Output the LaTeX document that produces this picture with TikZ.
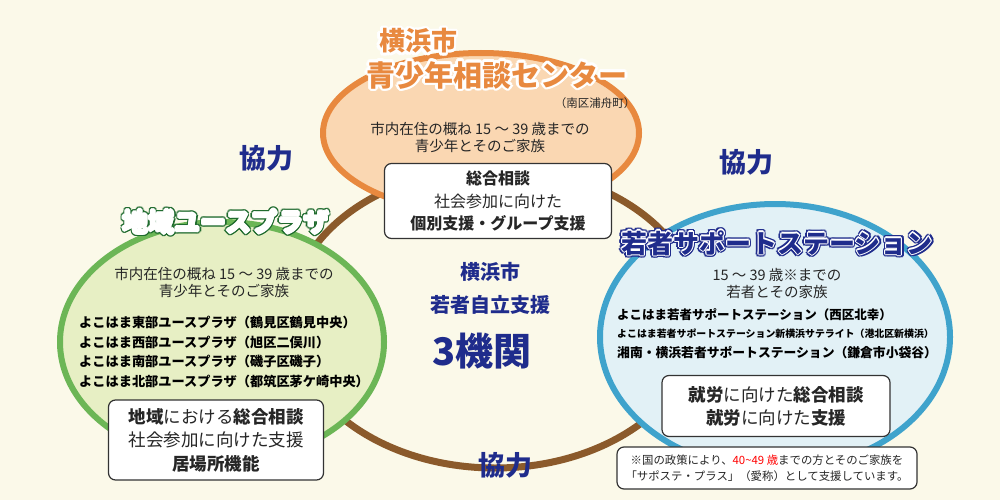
\documentclass[tikz,border=0pt]{standalone}
\usepackage{fontspec}
\usetikzlibrary{calc}
\setmainfont{Noto Sans CJK JP}
\newcommand{\outl}[5]{% pos, size, text, fill, outline
  \foreach \a in {0,30,...,330}{\node[inner sep=0,text=#5,font=\fontsize{#2}{#2}\selectfont\bfseries] at ($(#1)+(\a:2.6)$) {#3};}
  \foreach \a in {0,45,...,315}{\node[inner sep=0,text=white,font=\fontsize{#2}{#2}\selectfont\bfseries] at ($(#1)+(\a:1.2)$) {#3};}
  \node[inner sep=0,text=#4,font=\fontsize{#2}{#2}\selectfont\bfseries] at (#1) {#3};}
\begin{document}
\begin{tikzpicture}[x=1pt,y=-1pt,
  body/.style={font=\fontsize{14.5}{17}\selectfont,align=center,text=black!85,inner sep=0},
  lst/.style={font=\fontsize{13.2}{14}\selectfont\bfseries,anchor=west,inner sep=0},
  kyo/.style={font=\fontsize{27}{28}\selectfont\bfseries,text=navy,inner sep=0},
  wbox/.style={draw=black!80,line width=1.2pt,rounded corners=7pt,fill=white}]
\definecolor{bg}{HTML}{FBF9E9}
\definecolor{navy}{HTML}{1F2C8C}
\definecolor{brn}{HTML}{8B5A2B}
\definecolor{org}{HTML}{E8893F}
\definecolor{orgf}{HTML}{FAD7B2}
\definecolor{grn}{HTML}{6CB656}
\definecolor{grnf}{HTML}{E7EFC4}
\definecolor{dgrn}{HTML}{1F6B2E}
\definecolor{blu}{HTML}{3FA3CC}
\definecolor{bluf}{HTML}{E2F1F6}
\fill[bg] (0,0) rectangle (1000,500);
\useasboundingbox (0,0) rectangle (1000,500);
% ring
\draw[brn,line width=7pt] (495,318) ellipse (205 and 150);
% ellipses
\draw[org,line width=6pt,fill=orgf] (481,133) ellipse (158 and 80);
\draw[grn,line width=6pt,fill=grnf] (222,342) ellipse (162 and 120);
\draw[blu,line width=6pt,fill=bluf] (775,337) ellipse (175 and 133);
% top
\outl{418,41}{26}{横浜市}{org}{white}
\outl{497,75}{29}{青少年相談センター}{org}{white}
\node[body,font=\fontsize{11.5}{12}\selectfont] (tn) at (595,103) {（南区浦舟町）};
\node[body] (tb) at (480,137) {市内在住の概ね 15 〜 39 歳までの\\青少年とそのご家族};
\node[wbox,minimum width=227,minimum height=75] (tbox) at (498,201) {};
\node[body,font=\fontsize{16}{22.5}\selectfont] at (tbox) {\textbf{総合相談}\\社会参加に向けた\\\textbf{個別支援・グループ支援}};
% kyoryoku
\node[kyo] (k1) at (266,158) {協力};
\node[kyo] (k2) at (746,162) {協力};
\node[kyo] (k3) at (505,465) {協力};
% center
\node[inner sep=0,text=navy,font=\fontsize{20}{22}\selectfont\bfseries] (c1) at (490,272) {横浜市};
\node[inner sep=0,text=navy,font=\fontsize{20}{22}\selectfont\bfseries] (c2) at (490,305) {若者自立支援};
\node[inner sep=0,text=navy,font=\fontsize{38}{40}\selectfont\bfseries] (c3) at (482,351) {3機関};
% left
\outl{226,222}{26}{地域ユースプラザ}{white}{dgrn}
\node[body] (lb) at (224,282) {市内在住の概ね 15 〜 39 歳までの\\青少年とそのご家族};
\node[lst] (l1) at (79,322) {よこはま東部ユースプラザ（鶴見区鶴見中央）};
\node[lst] (l2) at (79,342) {よこはま西部ユースプラザ（旭区二俣川）};
\node[lst] (l3) at (79,361) {よこはま南部ユースプラザ（磯子区磯子）};
\node[lst] (l4) at (79,381) {よこはま北部ユースプラザ（都筑区茅ケ崎中央）};
\node[wbox,minimum width=215,minimum height=80] (lbox) at (216,440) {};
\node[body,font=\fontsize{17.5}{23.5}\selectfont] at (lbox) {\textbf{地域}における\textbf{総合相談}\\社会参加に向けた支援\\\textbf{居場所機能}};
% right
\outl{777,243}{26}{若者サポートステーション}{navy}{navy}
\node[body] (rb) at (777,284) {15 〜 39 歳※までの\\若者とその家族};
\node[lst,font=\fontsize{12.5}{13}\selectfont\bfseries] (r1) at (617,315) {よこはま若者サポートステーション（西区北幸）};
\node[lst,font=\fontsize{9.9}{10}\selectfont\bfseries] (r2) at (617,334) {よこはま若者サポートステーション新横浜サテライト（港北区新横浜）};
\node[lst,font=\fontsize{12.8}{13}\selectfont\bfseries] (r3) at (617,353) {湘南・横浜若者サポートステーション（鎌倉市小袋谷）};
\node[wbox,minimum width=228,minimum height=61] (rbox) at (776,406) {};
\node[body,font=\fontsize{17.5}{23}\selectfont] at (rbox) {\textbf{就労}に向けた\textbf{総合相談}\\\textbf{就労}に向けた\textbf{支援}};
\node[wbox,minimum width=300,minimum height=42] (nbox) at (767,468) {};
\node[body,font=\fontsize{11.4}{16}\selectfont] at (nbox) {※国の政策により、\textcolor{red}{40\textasciitilde49 歳}までの方とそのご家族を\\「サポステ・プラス」（愛称）として支援しています。};
\end{tikzpicture}
\end{document}
